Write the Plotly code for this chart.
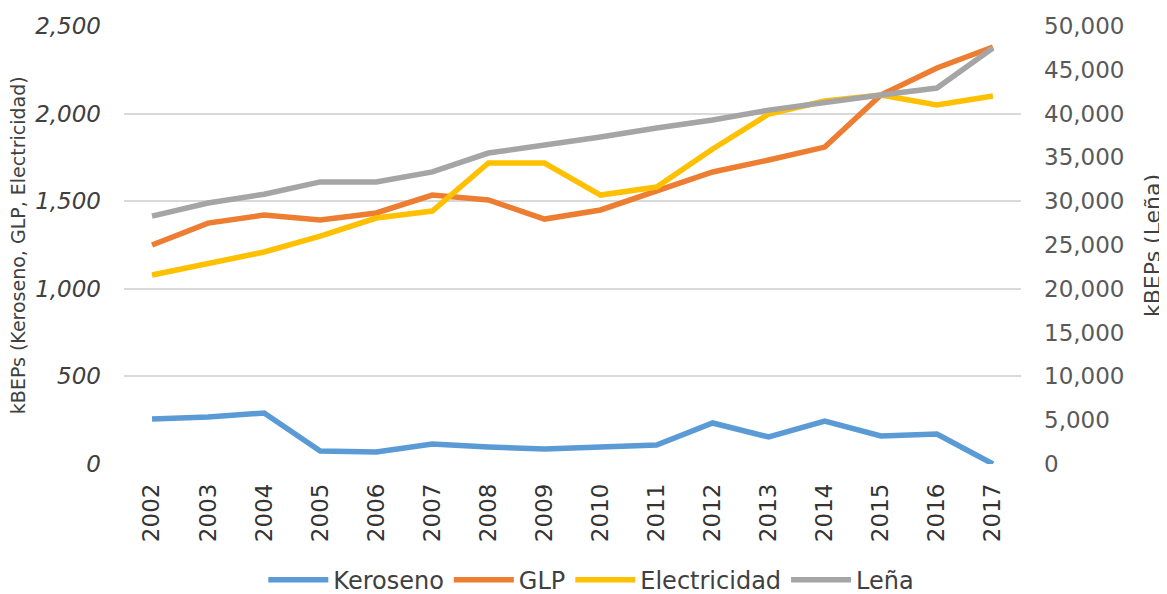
import plotly.graph_objects as go

years = [str(y) for y in range(2002, 2018)]
keroseno = [257, 268, 291, 74, 68, 114, 97, 86, 97, 108, 234, 154, 245, 160, 171, 0]
glp = [1250, 1375, 1421, 1393, 1433, 1535, 1507, 1398, 1450, 1558, 1667, 1735, 1809, 2106, 2260, 2380]
electricidad = [1079, 1142, 1210, 1301, 1404, 1444, 1718, 1718, 1535, 1581, 1798, 1998, 2072, 2106, 2049, 2100]
lena = [28300, 29800, 30800, 32200, 32200, 33350, 35500, 36400, 37330, 38360, 39270, 40400, 41330, 42120, 42920, 47500]

left_ticks = [0, 500, 1000, 1500, 2000, 2500]
right_ticks = [0, 5000, 10000, 15000, 20000, 25000, 30000, 35000, 40000, 45000, 50000]

FONT = "DejaVu Sans"
fig = go.Figure()
fig.add_trace(go.Scatter(x=years, y=keroseno, name="Keroseno", mode="lines",
                         line=dict(color="#5B9BD5", width=5.5)))
fig.add_trace(go.Scatter(x=years, y=glp, name="GLP", mode="lines",
                         line=dict(color="#ED7D31", width=5.5)))
fig.add_trace(go.Scatter(x=years, y=electricidad, name="Electricidad", mode="lines",
                         line=dict(color="#FFC000", width=5.5)))
fig.add_trace(go.Scatter(x=years, y=lena, name="Leña", mode="lines", yaxis="y2",
                         line=dict(color="#A5A5A5", width=5.5)))

fig.update_layout(
    width=1159, height=586,
    margin=dict(l=116, r=146, t=18, b=130, autoexpand=False),
    plot_bgcolor="white", paper_bgcolor="white",
    font=dict(family=FONT, color="#404040"),
    showlegend=True,
    legend=dict(orientation="h", x=0.521, xanchor="center", y=-0.265, yanchor="middle",
                font=dict(size=24, color="#404040", family=FONT), itemwidth=60,
                tracegroupgap=0),
    xaxis=dict(type="category", range=[-0.5, 15.5], tickangle=-90, showgrid=False,
               showline=False, ticks="", automargin=False,
               tickfont=dict(size=23, color="#333333", family=FONT),
               ticklabelstandoff=14),
    yaxis=dict(range=[0, 2500], tickvals=left_ticks, tickformat=",", automargin=False,
               showgrid=True, gridcolor="#D9D9D9", gridwidth=1.5, zeroline=False,
               showline=False, ticks="",
               tickfont=dict(size=23, color="#404040", family=FONT, style="italic"),
               ticklabelstandoff=22),
    yaxis2=dict(range=[0, 50000], tickvals=right_ticks, tickformat=",", automargin=False,
                overlaying="y", side="right", showgrid=False, zeroline=False,
                showline=False, ticks="",
                tickfont=dict(size=23, color="#595959", family=FONT),
                ticklabelstandoff=22),
    annotations=[
        dict(text="kBEPs (Keroseno, GLP, Electricidad)", xref="paper", yref="paper",
             x=-0.118, y=0.5, xanchor="center", yanchor="middle", textangle=-90,
             showarrow=False, font=dict(size=19, color="#404040", family=FONT)),
        dict(text="kBEPs (Leña)", xref="paper", yref="paper",
             x=1.146, y=0.5, xanchor="center", yanchor="middle", textangle=-90,
             showarrow=False, font=dict(size=22, color="#404040", family=FONT)),
    ],
)

fig.write_html("out.html")
